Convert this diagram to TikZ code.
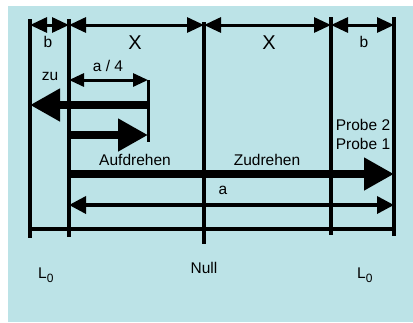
\documentclass[tikz,border=0pt]{standalone}
\usepackage{fontspec}
\setmainfont{Liberation Sans}
\usetikzlibrary{arrows.meta}
\definecolor{bgblue}{RGB}{188,227,231}
\tikzset{
  vline/.style={line width=4pt},
  dim/.style={line width=3pt,{Triangle[length=17pt,width=15pt]}-{Triangle[length=17pt,width=15pt]}},
  smalldim/.style={line width=3pt,{Triangle[length=15pt,width=13pt]}-{Triangle[length=15pt,width=13pt]}},
  adim/.style={line width=3.5pt,{Triangle[length=17pt,width=17pt]}-{Triangle[length=17pt,width=17pt]}},
  thick arrow/.style={line width=8pt,-{Triangle[length=30pt,width=31pt]}},
  lbl/.style={font=\fontsize{15.5pt}{19pt}\selectfont, inner sep=0pt},
  biglbl/.style={font=\fontsize{20pt}{22pt}\selectfont, inner sep=0pt}
}
\newcommand{\lnull}{L\raisebox{-4.5pt}{\fontsize{12pt}{14pt}\selectfont 0}}
\begin{document}
\begin{tikzpicture}[x=1pt,y=-1pt]
\useasboundingbox (0,0) rectangle (413,322);
\fill[white] (0,0) rectangle (413,322);
\fill[bgblue] (8,6) rectangle (413,322);
% named coordinates
\coordinate (L1t) at (30,19);  \coordinate (L1b) at (30,238);
\coordinate (L2t) at (69,19);  \coordinate (L2b) at (69,237);
\coordinate (L3t) at (204,22); \coordinate (L3b) at (204,244);
\coordinate (L4t) at (331,17); \coordinate (L4b) at (331,235);
\coordinate (L5t) at (394,17); \coordinate (L5b) at (394,236);
\coordinate (B1) at (30,229);  \coordinate (B2) at (394,229);
\coordinate (T1) at (30,25); \coordinate (T2) at (69,25); \coordinate (T3) at (204,25);
\coordinate (T4) at (331,25); \coordinate (T5) at (394,25);
\coordinate (Q1) at (69,80); \coordinate (Q2) at (148,80); \coordinate (Q3) at (148,142);
\coordinate (Z1) at (148,105); \coordinate (Z2) at (30,105);
\coordinate (R1) at (69,135); \coordinate (R2) at (148,135);
\coordinate (D1) at (69,174); \coordinate (D2) at (394,174);
\coordinate (A1) at (69,205); \coordinate (A2) at (394,205);
% vertical lines
\draw[vline] (L1t) -- (L1b);
\draw[vline] (L2t) -- (L2b);
\draw[vline] (L3t) -- (L3b);
\draw[vline] (L4t) -- (L4b);
\draw[vline] (L5t) -- (L5b);
\draw[vline] (B1) -- (B2);
% top dimensions
\draw[dim] (T1) -- (T2);
\draw[dim] (T2) -- (T3);
\draw[dim] (T3) -- (T4);
\draw[dim] (T4) -- (T5);
% a/4
\draw[smalldim] (Q1) -- (Q2);
\draw[line width=3pt] (Q2) -- (Q3);
\draw[thick arrow] (Z1) -- (Z2);
\draw[thick arrow] (R1) -- (R2);
\draw[thick arrow] (D1) -- (D2);
\draw[adim] (A1) -- (A2);
% labels
\node[lbl] (lb1) at (48,42) {b};
\node[biglbl] (lx1) at (135,43) {X};
\node[biglbl] (lx2) at (269,43) {X};
\node[lbl] (lb2) at (364,42) {b};
\node[lbl] (lq) at (108,66) {a / 4};
\node[lbl] (lzu) at (50,76) {zu};
\node[lbl] (lauf) at (135,160) {Aufdrehen};
\node[lbl] (lzud) at (267,160) {Zudrehen};
\node[lbl] (la) at (223,190) {a};
\node[lbl] (lp2) at (363,125) {Probe 2};
\node[lbl] (lp1) at (363,144) {Probe 1};
\node[lbl,anchor=base west] (l01) at (38,278) {\lnull};
\node[lbl] (lnull) at (204,268) {Null};
\node[lbl,anchor=base west] (l02) at (357,278) {\lnull};
\end{tikzpicture}
\end{document}
